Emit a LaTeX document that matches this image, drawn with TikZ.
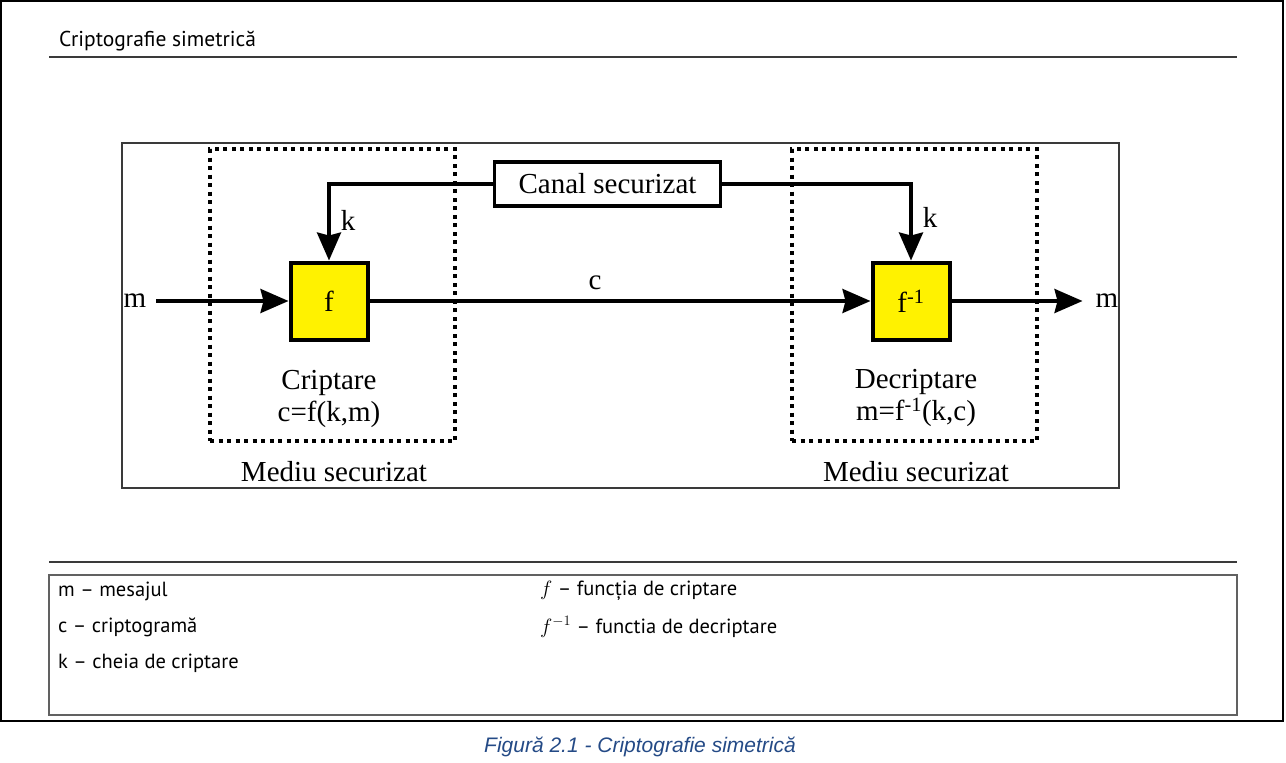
\documentclass[tikz,border=0pt]{standalone}
\usepackage{fontspec}
\setmainfont{Liberation Serif}
\newfontfamily\headfont{PT Sans}
\newfontfamily\capfont{Liberation Sans}
\usetikzlibrary{arrows.meta, positioning, calc}
\definecolor{capblue}{HTML}{244A86}
\definecolor{rulegray}{HTML}{3A3A3A}

\begin{document}
\begin{tikzpicture}[
    x=1pt, y=-1pt,
    node distance=8pt and 8pt,
    func/.style={rectangle, draw=black, fill=yellow, line width=4pt, minimum width=77pt, minimum height=77pt, font=\fontsize{29}{34}\selectfont},
    channel/.style={rectangle, draw=black, line width=3.5pt, minimum width=226pt, minimum height=44pt, font=\fontsize{29}{34}\selectfont},
    zone/.style={rectangle, draw=black, line width=4pt, dash pattern=on 4pt off 4.5pt, minimum width=245pt, minimum height=292pt},
    lbl/.style={font=\fontsize{29}{32}\selectfont, inner sep=0pt, align=center},
    legend/.style={font=\headfont\fontsize{20.5}{24}\selectfont, anchor=west, inner sep=0pt},
    arrow/.style={-{Stealth[length=28pt, width=24pt, inset=3pt]}, line width=3.5pt},
    rule/.style={draw=rulegray, line width=1.5pt}
]
\useasboundingbox (0,0) rectangle (1286,763);

% Page frame and header
\draw[line width=2pt] (1,1) rectangle (1283,721);
\node[font=\headfont\fontsize{21.5}{24}\selectfont, anchor=west, inner sep=0pt] (title) at (59,41) {Criptografie simetrică};
\draw[rule] (49,57) -- (1237,57);

% Figure frame
\draw[draw=rulegray, line width=1.5pt] (122,143) rectangle (1119,488);

% Secure zones
\node[zone] (encZone) at (332.5,295) {};
\node[zone] (decZone) at (914.5,295) {};
\node[lbl] (encEnv) at (334,472) {Mediu securizat};
\node[lbl] (decEnv) at (916,472) {Mediu securizat};

% Function blocks
\node[func] (enc) at (329,301) {f};
\node[func] (dec) at (911,301) {f\textsuperscript{-1}};
\node[lbl] (encText) at (329,399) {Criptare\\c=f(k,m)};
\node[lbl] (decText) at (916,398) {Decriptare\\m=f\textsuperscript{-1}(k,c)};

% Key channel
\node[channel] (canal) at (607.5,184) {Canal securizat};

% Message ends
\node[lbl, inner sep=10pt] (mIn) at (135,301) {m};
\node[lbl, inner xsep=13pt] (mOut) at (1107,301) {m};

% Connections
\draw[arrow] (mIn) -- (enc);
\draw[arrow] (enc) -- node[lbl, above=9pt, pos=0.45] (cLbl) {c} (dec);
\draw[arrow] (dec) -- (mOut);
\draw[arrow] (canal.west) -| node[lbl, pos=0.74, right=10pt] (kEnc) {k} (enc.north);
\draw[arrow] (canal.east) -| node[lbl, pos=0.72, right=10pt] (kDec) {k} (dec.north);

% Legend
\draw[rule] (49,562) -- (1237,562);
\draw[draw=rulegray!80, line width=1.5pt] (49,575) rectangle (1237,715);
\node[legend] (lgM) at (58,591) {m – mesajul};
\node[legend] (lgC) at (58,627) {c – criptogramă};
\node[legend] (lgK) at (58,663) {k – cheia de criptare};
\node[legend] (lgF) at (540,591) {$f$ – funcția de criptare};
\node[legend] (lgFi) at (540,627) {$f^{-1}$ – functia de decriptare};

% Caption
\node[font=\capfont\itshape\fontsize{21}{24}\selectfont, text=capblue, inner sep=0pt] (caption) at (640,747) {Figură 2.1 - Criptografie simetrică};
\end{tikzpicture}
\end{document}
